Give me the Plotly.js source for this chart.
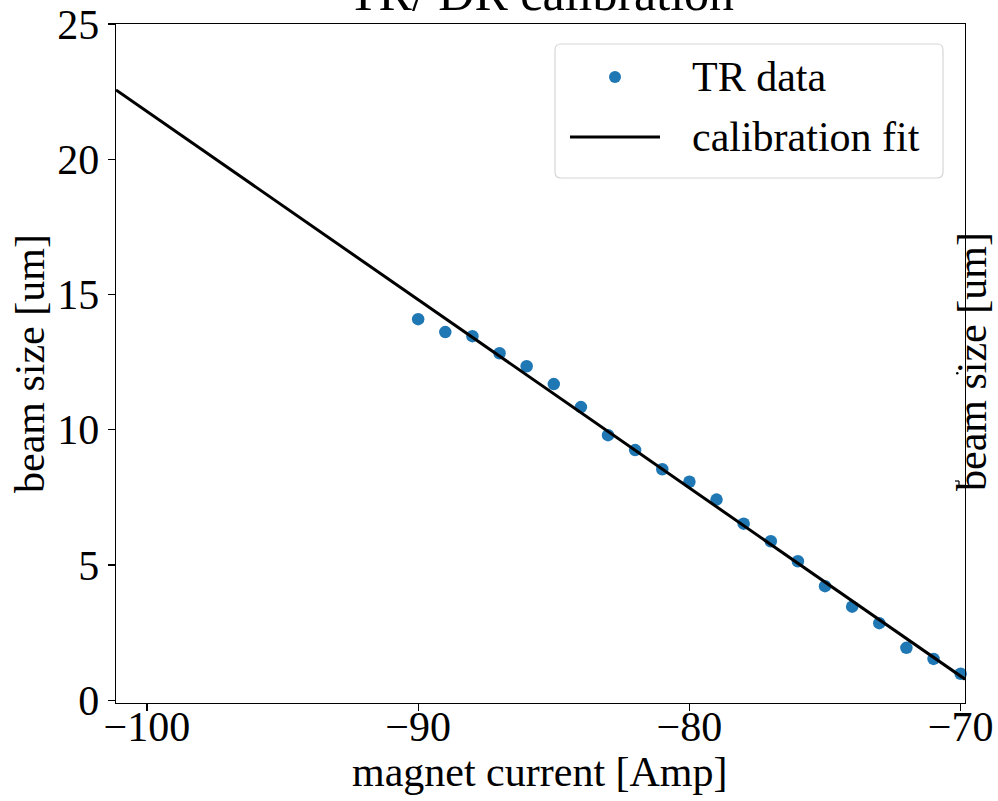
<!DOCTYPE html>
<html>
<head>
<meta charset="utf-8">
<script src="https://cdn.plot.ly/plotly-3.0.1.min.js"></script>
<style>html,body{margin:0;padding:0;background:#fff;}#chart{width:998px;height:801px;}</style>
</head>
<body>
<div id="chart"></div>
<script>
// ---- data ----
const dataCurrent = [-90,-89,-88,-87,-86,-85,-84,-83,-82,-81,-80,-79,-78,-77,-76,-75,-74,-73,-72,-71,-70];
const dataBeamSize = [14.09,13.61,13.46,12.83,12.35,11.69,10.84,9.80,9.25,8.54,8.08,7.42,6.53,5.88,5.14,4.22,3.46,2.85,1.94,1.53,0.98];
const fitCurrent = [-101.14, -69.84];
const fitBeamSize = [22.56, 0.78];
const xTicks = [-100, -90, -80, -70];
const yTicks = [0, 5, 10, 15, 20, 25];
const titleText = "TR/ DR calibration";
const xLabel = "magnet current [Amp]";
const yLabel = "beam size [um]";
const legendLabels = ["TR data", "calibration fit"];

// ---- layout helpers (pixel -> paper) ----
const L = 116, R = 965, T = 24, B = 703;
const W = 998, H = 801;
const px = v => (v - L) / (R - L);
const py = v => (B - v) / (B - T);
const FONT = "Liberation Serif, Times New Roman, serif";
const blue = "#1f77b4";

const traces = [
  {x: dataCurrent, y: dataBeamSize, type: "scatter", mode: "markers", name: legendLabels[0],
   marker: {color: blue, size: 12.5}, showlegend: false, cliponaxis: false},
  {x: fitCurrent, y: fitBeamSize, type: "scatter", mode: "lines", name: legendLabels[1],
   line: {color: "#000", width: 3}, showlegend: false}
];

// legend box (rounded)
const bx0 = 555, bx1 = 943, by0 = 44, by1 = 178, r = 6;
const boxPath = `M${px(bx0+r)},${py(by0)} L${px(bx1-r)},${py(by0)} Q${px(bx1)},${py(by0)} ${px(bx1)},${py(by0+r)} ` +
  `L${px(bx1)},${py(by1-r)} Q${px(bx1)},${py(by1)} ${px(bx1-r)},${py(by1)} L${px(bx0+r)},${py(by1)} ` +
  `Q${px(bx0)},${py(by1)} ${px(bx0)},${py(by1-r)} L${px(bx0)},${py(by0+r)} Q${px(bx0)},${py(by0)} ${px(bx0+r)},${py(by0)} Z`;

const shapes = [
  {type: "path", xref: "paper", yref: "paper", path: boxPath,
   line: {color: "#d6d6d6", width: 1.2}, fillcolor: "rgba(255,255,255,0.8)", layer: "above"},
  {type: "circle", xref: "paper", yref: "paper",
   x0: px(609), x1: px(621), y0: py(83), y1: py(71),
   line: {width: 0}, fillcolor: blue, layer: "above"},
  {type: "line", xref: "paper", yref: "paper",
   x0: px(570), x1: px(660), y0: py(137), y1: py(137),
   line: {color: "#000", width: 3}, layer: "above"},
  // small stray marks next to the right spine (clipped twin-axis tick remnants)
  {type: "line", xref: "paper", yref: "paper", x0: px(955), x1: px(959), y0: py(481), y1: py(481),
   line: {color: "#000", width: 1.2}, layer: "above"},
  {type: "line", xref: "paper", yref: "paper", x0: px(959), x1: px(959), y0: py(481), y1: py(488),
   line: {color: "#000", width: 1.2}, layer: "above"},
  {type: "circle", xref: "paper", yref: "paper", x0: px(956), x1: px(958.5), y0: py(374.5), y1: py(372),
   line: {width: 0}, fillcolor: "#000", layer: "above"}
];

const tf = {family: FONT, size: 42, color: "#000"};
const annotations = [
  {text: titleText, xref: "paper", yref: "paper", x: 0.5, y: 1, xanchor: "center", yanchor: "bottom",
   yshift: 1, showarrow: false, font: {family: FONT, size: 50, color: "#000"}},
  {text: legendLabels[0], xref: "paper", yref: "paper", x: px(690), y: py(77), xanchor: "left", yanchor: "middle",
   showarrow: false, font: tf},
  {text: legendLabels[1], xref: "paper", yref: "paper", x: px(690), y: py(137), xanchor: "left", yanchor: "middle",
   showarrow: false, font: tf},
  {text: yLabel, xref: "paper", yref: "paper", x: px(972), y: py(362), xanchor: "center", yanchor: "middle",
   textangle: -90, showarrow: false, font: tf},
  {text: yLabel, xref: "paper", yref: "paper", x: px(30), y: py(364), xanchor: "center", yanchor: "middle",
   textangle: -90, showarrow: false, font: tf},
  {text: xLabel, xref: "paper", yref: "paper", x: px(540), y: py(772), xanchor: "center", yanchor: "middle",
   showarrow: false, font: tf}
];

const layout = {
  width: W, height: H,
  margin: {l: L, r: W - R, t: T, b: H - B, pad: 0},
  paper_bgcolor: "#fff", plot_bgcolor: "#fff",
  font: tf,
  showlegend: false,
  xaxis: {
    range: [-101.14, -69.84], tickvals: xTicks, ticks: "outside", ticklen: 7, tickwidth: 1.3,
    tickcolor: "#000", showline: true, linecolor: "#000", linewidth: 1.3, mirror: true,
    showgrid: false, zeroline: false, tickfont: tf, ticklabelstandoff: -21, automargin: false
  },
  yaxis: {
    range: [-0.1, 25], tickvals: yTicks, ticks: "outside", ticklen: 7, tickwidth: 1.3,
    tickcolor: "#000", showline: true, linecolor: "#000", linewidth: 1.3, mirror: true,
    showgrid: false, zeroline: false, tickfont: tf, automargin: false
  },
  shapes: shapes,
  annotations: annotations
};

Plotly.newPlot("chart", traces, layout, {staticPlot: true, displayModeBar: false});
</script>
</body>
</html>
